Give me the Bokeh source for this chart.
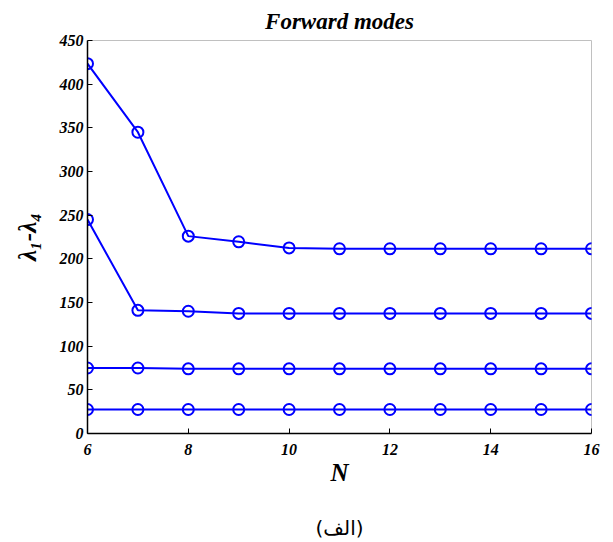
from bokeh.plotting import figure
from bokeh.models import LinearAxis, FixedTicker
from bokeh.embed import file_html
from bokeh.resources import INLINE

N = [6, 7, 8, 9, 10, 11, 12, 13, 14, 15, 16]
lam1 = [423.5, 345, 226, 219.5, 212.5, 211.5, 211.5, 211.5, 211.5, 211.5, 211.5]
lam2 = [245, 141, 140, 137.5, 137.5, 137.5, 137.5, 137.5, 137.5, 137.5, 137.5]
lam3 = [75, 75, 74, 74, 74, 74, 74, 74, 74, 74, 74]
lam4 = [27.5, 27.5, 27.5, 27.5, 27.5, 27.5, 27.5, 27.5, 27.5, 27.5, 27.5]
x_ticks = [6, 8, 10, 12, 14, 16]
y_ticks = [0, 50, 100, 150, 200, 250, 300, 350, 400, 450]
title_text = "Forward modes"
x_label = "N"
y_label = "λ₁-λ₄"
caption = "(الف)"

BLUE = "#0000ff"
SERIF = "Liberation Serif"

p = figure(width=613, height=542, output_backend="svg", toolbar_location=None,
           x_range=(6, 16), y_range=(0, 450),
           min_border_left=87, min_border_right=22, min_border_top=39, min_border_bottom=108)
p.background_fill_color = "white"
p.border_fill_color = "white"
p.outline_line_color = "#c0c0c0"
p.outline_line_width = 1
p.xgrid.visible = False
p.ygrid.visible = False

p.title.text = title_text
p.title.text_font = SERIF
p.title.text_font_style = "bold italic"
p.title.text_font_size = "23px"
p.title.text_color = "black"
p.title.align = "center"
p.title.standoff = 13

for ax in (p.xaxis[0], p.yaxis[0]):
    ax.axis_line_color = "black"
    ax.axis_line_width = 1.5
    ax.major_tick_in = 5
    ax.major_tick_out = 0
    ax.major_tick_line_color = "black"
    ax.minor_tick_line_color = None
    ax.major_label_text_font = SERIF
    ax.major_label_text_font_style = "bold italic"
    ax.major_label_text_font_size = "16px"
    ax.major_label_text_color = "black"
    ax.axis_label_text_font = SERIF
    ax.axis_label_text_font_style = "bold italic"
    ax.axis_label_text_font_size = "25px"
    ax.axis_label_text_color = "black"

p.xaxis.ticker = FixedTicker(ticks=x_ticks)
p.yaxis.ticker = FixedTicker(ticks=y_ticks)
p.xaxis.axis_label = x_label
p.yaxis.axis_label = y_label
p.xaxis.major_label_standoff = 10
p.yaxis.major_label_standoff = 4
p.xaxis.axis_label_standoff = 1
p.yaxis.axis_label_standoff = 16

for ys in (lam1, lam2, lam3, lam4):
    p.line(N, ys, line_color=BLUE, line_width=2)
    p.scatter(N, ys, marker="circle", size=11, line_color=BLUE, line_width=2,
              fill_alpha=0)

# caption carried by an empty extra axis below the main one
cap_axis = LinearAxis(ticker=FixedTicker(ticks=[]), axis_label=caption,
                      axis_line_color=None, major_tick_line_color=None,
                      minor_tick_line_color=None, major_label_text_font_size="0px",
                      major_label_standoff=0, major_tick_in=0, major_tick_out=0,
                      minor_tick_in=0, minor_tick_out=0,
                      axis_label_standoff=27, axis_label_text_font="DejaVu Sans",
                      axis_label_text_font_style="normal",
                      axis_label_text_font_size="20px", axis_label_text_color="black")
p.add_layout(cap_axis, "below")

open("out.html", "w").write(file_html(p, INLINE))
